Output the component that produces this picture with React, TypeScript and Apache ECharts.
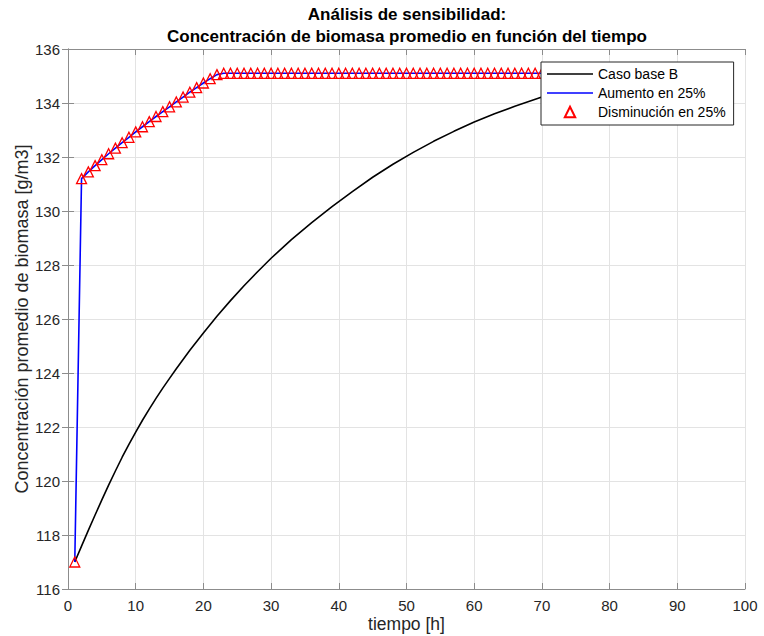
import React, { useEffect, useRef } from "react";
import * as echarts from "echarts";

// Time axis (h) and concentrations (g/m3)
const baseTimes = [1, 2, 3, 4, 5, 6, 7, 8, 9, 10, 11, 12, 13, 14, 15, 16, 18, 20, 22, 24, 26, 28, 30, 33, 36, 39, 42, 45, 48, 51, 54, 57, 60, 63, 66, 70];
const baseValues = [117.0, 117.59, 118.17, 118.74, 119.3, 119.85, 120.37, 120.88, 121.36, 121.81, 122.25, 122.66, 123.06, 123.44, 123.8, 124.16, 124.84, 125.48, 126.1, 126.68, 127.23, 127.75, 128.25, 128.94, 129.57, 130.16, 130.72, 131.25, 131.73, 132.17, 132.58, 132.95, 133.3, 133.6, 133.88, 134.22];

const scenarioTimes = Array.from({ length: 70 }, (_, i) => i + 1);
const aumentoValues = [
  117.0, 131.2, 131.45, 131.68, 131.9, 132.12, 132.33, 132.53, 132.73, 132.93,
  133.12, 133.31, 133.5, 133.68, 133.86, 134.04, 134.22, 134.4, 134.57, 134.74,
  134.9, 135.05, 135.1, 135.1, 135.1, 135.1, 135.1, 135.1, 135.1, 135.1,
  135.1, 135.1, 135.1, 135.1, 135.1, 135.1, 135.1, 135.1, 135.1, 135.1,
  135.1, 135.1, 135.1, 135.1, 135.1, 135.1, 135.1, 135.1, 135.1, 135.1,
  135.1, 135.1, 135.1, 135.1, 135.1, 135.1, 135.1, 135.1, 135.1, 135.1,
  135.1, 135.1, 135.1, 135.1, 135.1, 135.1, 135.1, 135.1, 135.1, 135.1,
];
const disminucionValues = [...aumentoValues];

const seriesNames = ["Caso base B", "Aumento en 25%", "Disminución en 25%"];
const titleLines = ["Análisis de sensibilidad:", "Concentración de biomasa promedio en función del tiempo"];
const xAxisName = "tiempo [h]";
const yAxisName = "Concentración promedio de biomasa [g/m3]";

const FONT = "'Liberation Sans', Arial, Helvetica, sans-serif";
const AXIS_COLOR = "#8c8c8c";
const TEXT_COLOR = "#262626";
const LINE_ICON = "path://M0,0H46V1.6H0Z";

export default function App() {
  const ref = useRef<HTMLDivElement>(null);

  useEffect(() => {
    if (!ref.current) return;
    const chart = echarts.init(ref.current, undefined, { renderer: "svg" });

    const pair = (xs: number[], ys: number[]) => xs.map((x, i) => [x, ys[i]]);

    const baseX = {
      type: "value",
      min: 0,
      max: 100,
      interval: 10,
      axisLine: { show: true, lineStyle: { color: AXIS_COLOR, width: 1 } },
      axisTick: { show: true, inside: true, length: 6, lineStyle: { color: AXIS_COLOR } },
    };
    const baseY = {
      type: "value",
      min: 116,
      max: 136,
      interval: 2,
      axisLine: { show: true, lineStyle: { color: AXIS_COLOR, width: 1 } },
      axisTick: { show: true, inside: true, length: 6, lineStyle: { color: AXIS_COLOR } },
    };

    chart.setOption({
      animation: false,
      backgroundColor: "#ffffff",
      textStyle: { fontFamily: FONT },
      grid: { left: 68, right: 19, top: 49, bottom: 47, containLabel: false, outerBoundsMode: "none" },
      graphic: [
        {
          type: "text",
          x: 407,
          y: 14,
          style: {
            text: titleLines[0],
            font: `bold 17px ${FONT}`,
            fill: "#000",
            textAlign: "center",
            textVerticalAlign: "middle",
          },
        },
        {
          type: "text",
          x: 407,
          y: 36,
          style: {
            text: titleLines[1],
            font: `bold 17px ${FONT}`,
            fill: "#000",
            textAlign: "center",
            textVerticalAlign: "middle",
          },
        },
      ],
      legend: {
        orient: "vertical",
        left: 541,
        top: 62,
        z: 10,
        itemWidth: 46,
        itemHeight: 13,
        itemGap: 5,
        padding: [5, 8, 6, 6],
        borderColor: "#262626",
        borderWidth: 1,
        backgroundColor: "#ffffff",
        textStyle: { fontSize: 14, color: "#000", fontFamily: FONT },
        data: [
          { name: seriesNames[0], icon: LINE_ICON },
          { name: seriesNames[1], icon: LINE_ICON },
          { name: seriesNames[2] },
        ],
      },
      xAxis: [
        {
          ...baseX,
          position: "bottom",
          name: xAxisName,
          nameLocation: "middle",
          nameGap: 26,
          nameMoveOverlap: false,
          nameTextStyle: { fontSize: 17.5, color: TEXT_COLOR, fontFamily: FONT },
          axisLabel: { fontSize: 15, color: TEXT_COLOR, margin: 9, fontFamily: FONT },
          splitLine: { show: true, lineStyle: { color: "#e3e3e3", width: 1 } },
        },
        {
          ...baseX,
          position: "top",
          axisLabel: { show: false },
          splitLine: { show: false },
        },
      ],
      yAxis: [
        {
          ...baseY,
          position: "left",
          name: yAxisName,
          nameLocation: "middle",
          nameGap: 37,
          nameMoveOverlap: false,
          nameTextStyle: { fontSize: 18, color: TEXT_COLOR, fontFamily: FONT },
          axisLabel: { fontSize: 15, color: TEXT_COLOR, margin: 8, fontFamily: FONT },
          splitLine: { show: true, lineStyle: { color: "#e3e3e3", width: 1 } },
        },
        {
          ...baseY,
          position: "right",
          axisLabel: { show: false },
          splitLine: { show: false },
        },
      ],
      series: [
        {
          name: seriesNames[0],
          type: "line",
          data: pair(baseTimes, baseValues),
          symbol: "none",
          lineStyle: { color: "#000000", width: 1.6 },
          itemStyle: { color: "#000000" },
          z: 2,
        },
        {
          name: seriesNames[1],
          type: "line",
          data: pair(scenarioTimes, aumentoValues),
          symbol: "none",
          lineStyle: { color: "#0000ff", width: 1.6 },
          itemStyle: { color: "#0000ff" },
          z: 3,
        },
        {
          name: seriesNames[2],
          type: "line",
          data: pair(scenarioTimes, disminucionValues),
          symbol: "triangle",
          symbolSize: 10,
          showSymbol: true,
          lineStyle: { width: 0, opacity: 0 },
          itemStyle: { color: "rgba(255,255,255,0)", borderColor: "#ff0000", borderWidth: 1.3 },
          z: 3,
        },
      ],
    });

    return () => chart.dispose();
  }, []);

  return (
    <div
      ref={ref}
      style={{ position: "fixed", left: 0, top: 0, width: 764, height: 636 }}
    />
  );
}
